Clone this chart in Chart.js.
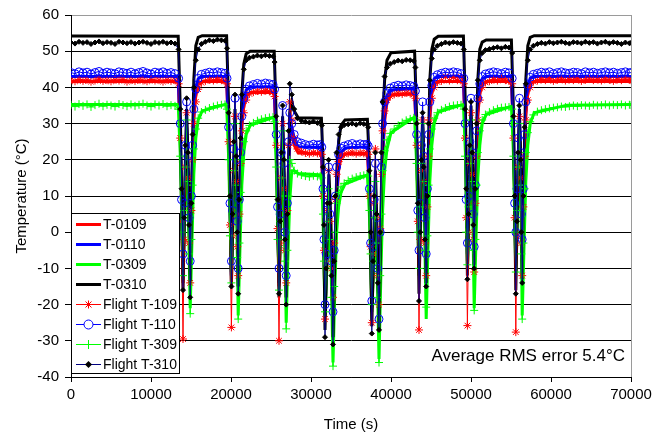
<!DOCTYPE html>
<html lang="en">
<head>
<meta charset="UTF-8">
<title>Temperature vs time</title>
<script src="https://cdn.jsdelivr.net/npm/chart.js@4"></script>
<style>
  html, body { margin: 0; padding: 0; background: #fff; }
  #chart { display: block; }
</style>
</head>
<body>
<canvas id="chart" width="668" height="434"></canvas>
<script>
// model curves: sparse breakpoints (s)
const modelTime = [0,
  13400, 13650, 14000, 14300, 14450, 14650, 14900, 15150, 15350, 15600, 15900, 16400,
  19450, 19700, 20050, 20350, 20500, 20700, 20900, 21150, 21350, 21600, 21900, 22400,
  25400, 25650, 26000, 26300, 26450, 26650, 26900, 27150, 27350, 27600, 27900, 28400,
  31300, 31500, 31750, 32050, 32250, 32500, 32750, 33000, 33200, 33450, 33750, 34250,
  37050, 37300, 37600, 37900, 38050, 38250, 38500, 38750, 38950, 39200, 39500, 40000,
  42950, 43200, 43500, 43800, 43950, 44150, 44400, 44650, 44850, 45100, 45400, 45900,
  49050, 49300, 49550, 49850, 50000, 50200, 50400, 50650, 50850, 51100, 51400, 51900,
  55050, 55300, 55600, 55900, 56050, 56250, 56400, 56650, 56850, 57100, 57400, 57900,
  62000, 70000]

const modelT0109 = [41.6,
  41.6, 27, -14, 15, 29, 13, -10, 14, 31, 38.5, 41, 41.6,
  41.6, 27, -14, 15, 29, 13, -11, 13, 29, 35, 37.8, 38.6,
  38.6, 25, -15, 13, 28, 11, -12, 11, 27, 27.5, 24, 21.9,
  21.7, 11, -22, -5, 10, -4, -22, -9, 8, 17, 20.5, 21.6,
  21.7, 11, -21, -4, 11, -5, -21, 0, 20, 30.5, 36, 37.9,
  38.2, 25, -10, 15, 29, 13, -8, 15, 31, 38.5, 41, 41.6,
  41.6, 27, -8, 16, 30, 14, -6, 16, 32, 38.8, 41, 41.6,
  41.6, 27, -9, 16, 30, 14, -7, 16, 32, 38.8, 41, 41.6,
  41.6, 41.6]

const modelT0110 = [43.0,
  43.0, 28, -12, 16, 30, 14, -10, 16, 33, 40, 42.4, 43.0,
  43.0, 28, -12, 16, 30, 14, -11, 15, 30, 36.5, 39.3, 40.1,
  40.2, 26, -14, 14, 29, 12, -13, 12, 28, 29, 25.5, 23.6,
  23.4, 13, -22, -3, 12, -2, -24, -8, 10, 18.5, 22, 23.3,
  23.6, 13, -20, -2, 13, -3, -23, 2, 22, 32, 37.5, 39.3,
  39.6, 26, -8, 16, 30, 14, -7, 17, 33, 40, 42.4, 43.0,
  43.0, 28, -6, 18, 31, 15, -5, 18, 34, 40.3, 42.4, 43.0,
  43.0, 28, -4, 19, 31, 15, -3, 18, 34, 40.5, 42.5, 43.0,
  43.0, 43.0]

const modelT0309 = [35.3,
  35.3, 22, -10, 10, 26, 8, -21, 0, 16, 26, 31, 33.5,
  35.4, 21, -11, 9, 25, 7, -23, -2, 13, 22, 27, 29.5,
  31.8, 19, -13, 7, 23, 5, -25, -4, 9, 17, 17, 16.2,
  15.8, 5, -23, -6, 7, -8, -36, -14, 0, 7, 11, 13.3,
  15.8, 5, -22, -5, 8, -8, -35, -10, 6, 17, 23, 27.5,
  31.8, 19, -12, 9, 25, 7, -24, -2, 14, 24, 30, 33.2,
  35.3, 22, -10, 10, 26, 8, -21, 0, 15, 24, 30, 32.5,
  34.8, 22, -11, 10, 26, 8, -23, -2, 14, 24, 30, 33.0,
  35.1, 35.3]

const modelT0310 = [54.2,
  54.1, 35, -16, 20, 34, 18, -14, 20, 42, 51.5, 53.8, 54.3,
  54.3, 35, -15, 20, 34, 17, -15, 18, 38, 46.5, 49.3, 50.0,
  50.0, 32, -18, 18, 32, 16, -18, 15, 33, 36, 33.5, 31.6,
  31.5, 20, -27, 2, 16, 2, -29, -5, 15, 25, 29.5, 31.0,
  31.2, 19, -26, 3, 17, 1, -27, 5, 30, 42, 47.5, 49.6,
  50.0, 32, -17, 18, 32, 16, -14, 20, 42, 50.5, 53.3, 54.1,
  54.2, 35, -12, 22, 35, 19, -9, 22, 42, 50.5, 52.5, 53.1,
  53.1, 34, -16, 20, 34, 17, -13, 20, 42, 51.5, 53.8, 54.3,
  54.3, 54.3]

// flight samples (s)
const flightTime = [
  0, 500, 1000, 1500, 2000, 2500, 3000, 3500, 4000, 4500, 5000, 5500, 6000, 6500,
  7000, 7500, 8000, 8500, 9000, 9500, 10000, 10500, 11000, 11500, 12000, 12500, 13000,
  13450, 13650, 13820, 14000, 14150, 14300, 14450, 14600, 14750, 14900, 15050, 15200, 15350, 15600, 15900, 16300,
  16800, 17300, 17800, 18300, 18800, 19250,
  19500, 19700, 19870, 20050, 20200, 20350, 20500, 20650, 20780, 20900, 21050, 21200, 21350, 21600, 21900, 22300,
  22800, 23300, 23800, 24300, 24800, 25250,
  25450, 25650, 25820, 26000, 26150, 26300, 26450, 26600, 26750, 26900, 27050, 27200, 27350, 27600, 27900, 28300,
  28800, 29300, 29800, 30300, 30800, 31150,
  31350, 31500, 31620, 31750, 31900, 32050, 32200, 32350, 32550, 32750, 32900, 33050, 33200, 33450, 33750, 34150,
  34650, 35150, 35650, 36150, 36600, 37000,
  37150, 37300, 37450, 37600, 37750, 37900, 38050, 38200, 38350, 38500, 38650, 38800, 38950, 39200, 39500, 39900,
  40400, 40900, 41400, 41900, 42400, 42850,
  43050, 43200, 43350, 43500, 43650, 43800, 43950, 44100, 44250, 44400, 44550, 44700, 44850, 45100, 45400, 45800,
  46300, 46800, 47300, 47800, 48300, 48750,
  49100, 49250, 49400, 49550, 49700, 49850, 50000, 50150, 50280, 50400, 50550, 50700, 50850, 51100, 51400, 51800,
  52300, 52800, 53300, 53800, 54300, 54750,
  55150, 55300, 55450, 55600, 55750, 55900, 56050, 56200, 56300, 56400, 56550, 56700, 56850, 57100, 57400, 57800,
  58300, 58800, 59300, 59800, 60300, 60800, 61300, 61800, 62300, 62800, 63300, 63800,
  64300, 64800, 65300, 65800, 66300, 66800, 67300, 67800, 68300, 68800, 69300, 69800, 70000]

const flightT109 = [
  42.0, 41.7, 42.2, 41.8, 42.1, 41.6, 41.9, 42.3, 41.8, 42.0, 41.7, 42.1, 41.9, 42.2,
  41.6, 42.0, 41.8, 42.1, 41.9, 41.7, 42.2, 41.9, 42.0, 41.6, 42.1, 41.8, 42.0,
  41, 26, 3, -29.5, -2, 18, 33, 15, -3, -14, 6, 20, 30, 36, 39.5, 41.3,
  41.8, 42.1, 41.9, 42.2, 42.0, 41.8,
  41, 25, 2, -26.3, -1, 17, 32, 14, -4, -12, 5, 19, 28, 33, 36.5, 38.2,
  38.7, 39.0, 38.8, 39.1, 38.9, 38.7,
  37.5, 24, 1, -30, -3, 15, 30, 12, -5, -14, 6, 24, 36, 31, 26, 23,
  22.3, 21.9, 21.7, 22.0, 21.8, 21.9,
  21.5, 10, -5, -24, -8, 6, 17, 3, -10, -18, -3, 9, 16, 19.5, 21, 21.6,
  21.8, 22.1, 21.7, 22.0, 21.8, 21.9,
  21.5, 10, -4, -25, -6, 8, 23, 4, -12, -20, 1, 16, 28, 33.5, 36.5, 37.6,
  38.1, 38.4, 38.2, 38.5, 38.3, 38.1,
  37, 24, 3, -27, -2, 17, 31, 14, -3, -12, 7, 21, 31, 37, 40, 41.5,
  41.8, 43.0, 41.9, 42.8, 42.0, 42.9,
  41, 26, 4, -25.8, 0, 19, 33, 16, -2, -11, 8, 21, 31, 36.5, 40, 41.4,
  41.7, 42.2, 41.9, 42.5, 42.0, 41.8,
  41, 26, 4, -27.6, -1, 18, 32, 15, -3, -12, 7, 21, 31, 36.5, 40, 41.6,
  41.9, 42.2, 42.0, 42.4, 41.8, 42.1, 42.3, 41.9, 42.2, 42.0, 42.4, 41.8,
  42.1, 42.3, 42.0, 42.2, 41.9, 42.3, 42.1, 41.8, 42.2, 42.0, 42.3, 42.1, 42.0]

const flightT110 = [
  44.1, 43.8, 44.3, 44.0, 44.2, 43.7, 44.1, 44.4, 43.9, 44.2, 44.0, 43.8, 44.3, 44.1,
  43.9, 44.2, 43.8, 44.1, 44.4, 44.0, 43.7, 44.2, 44.0, 44.3, 43.9, 44.1, 43.8,
  42.5, 30, 9, -6, 8, 24, 36, 21, 4, -8, 10, 24, 34, 39.5, 42.5, 43.6,
  43.9, 44.2, 44.0, 44.3, 44.1, 43.9,
  42.5, 29, 8, -8, 6, 23, 37, 20, 3, -10, 9, 22, 32, 37, 39.5, 40.4,
  40.8, 41.1, 40.9, 41.2, 41.0, 40.8,
  39.5, 27, 7, -10, 5, 22, 35, 19, 0, -12, 8, 25, 33, 30, 27, 25,
  24.6, 24.2, 24.0, 24.3, 24.1, 24.2,
  23.5, 12, -2, -20, -6, 8, 18, 5, -8, -22, -5, 10, 18, 21.5, 23.2, 23.8,
  24.2, 24.5, 24.1, 24.4, 24.2, 24.3,
  23.8, 12, -3, -19, -4, 9, 19, 4, -10, -24, 0, 18, 30, 36, 38.5, 39.8,
  40.3, 40.6, 40.4, 40.7, 40.5, 40.3,
  39, 27, 6, -5, 8, 24, 36, 21, 4, -6, 12, 27, 36, 40.5, 42.8, 43.5,
  43.9, 44.2, 44.0, 44.3, 44.1, 43.8,
  42.5, 30, 9, -3, 10, 25, 37, 22, 5, -4, 13, 28, 37, 41, 43, 43.7,
  44.0, 44.3, 44.1, 43.8, 44.2, 44.0,
  42.5, 30, 8, 0, 12, 26, 37, 22, 5, -2, 12, 27, 36, 40.5, 42.8, 43.6,
  43.9, 44.2, 44.0, 44.3, 43.8, 44.1, 44.3, 44.0, 43.9, 44.2, 44.1, 43.8,
  44.3, 44.0, 44.2, 43.9, 44.1, 44.3, 44.0, 44.2, 43.9, 44.1, 44.3, 44.0, 44.1]

const flightT309 = [
  35.2, 34.7, 35.4, 34.9, 35.3, 34.6, 35.1, 35.5, 34.8, 35.2, 35.0, 34.7, 35.4, 35.1,
  34.8, 35.3, 34.9, 35.2, 35.5, 35.0, 34.7, 35.3, 35.0, 35.4, 34.8, 35.1, 34.9,
  34, 21, 0, -12, 6, 18, 31, 14, -6, -22.5, -2, 13, 23, 28.5, 31.5, 33.2,
  33.8, 34.3, 34.7, 35.0, 35.2, 35.3,
  34, 20, -1, -14, 5, 17, 30, 13, -7, -24, -3, 11, 20, 25, 28, 29.5,
  30.2, 30.8, 31.2, 31.5, 31.7, 31.8,
  30.5, 18, -2, -16, 3, 15, 28, 10, -8, -26.7, -5, 10, 20, 19, 17, 16.2,
  15.8, 15.5, 15.3, 15.6, 15.4, 15.5,
  15, 5, -8, -22, -10, 3, 12, -2, -18, -37, -15, 0, 8, 11, 12.5, 13.5,
  14.3, 14.8, 15.2, 15.5, 15.7, 15.8,
  15.5, 6, -6, -20, -8, 4, 14, -3, -18, -36, -12, 5, 17, 22.5, 25.5, 27.3,
  28.5, 29.5, 30.3, 30.9, 31.3, 31.6,
  31, 19, 0, -10, 7, 19, 30, 14, -5, -20.7, -1, 13, 23, 28.5, 31.5, 33,
  33.8, 34.3, 34.7, 35.0, 35.1, 35.2,
  34, 21, 0, -9, 7, 19, 31, 14, -5, -21.6, -2, 13, 22, 28, 31, 32.5,
  33.2, 33.7, 34.1, 34.4, 34.5, 34.6,
  34, 21, 0, -11, 6, 18, 30, 13, -6, -24, -3, 12, 22, 27.5, 30.5, 32.4,
  33.3, 33.7, 34.0, 34.2, 34.4, 34.5, 34.7, 34.6, 34.8, 35.0, 34.8, 35.1,
  35.0, 34.9, 35.2, 35.0, 35.1, 35.3, 35.0, 35.2, 35.1, 35.3, 35.0, 35.2, 35.1]

const flightT310 = [
  52.4, 52.1, 52.6, 52.3, 52.5, 52.0, 52.4, 52.7, 52.2, 52.5, 52.3, 52.0, 52.6, 52.4,
  52.2, 52.5, 52.1, 52.4, 52.6, 52.3, 52.0, 52.5, 52.3, 52.6, 52.2, 52.4, 52.1,
  50.5, 34, 12, -16, 4, 24, 37, 22, 2, -18, 8, 27, 40, 47.5, 50.5, 52.0,
  52.6, 53.0, 52.8, 53.2, 53.0, 52.9,
  50.8, 33, 10, -15, 5, 25, 38, 21, 0, -17, 9, 26, 38, 45, 47.5, 48.2,
  48.5, 48.8, 48.6, 48.9, 48.7, 48.6,
  47, 32, 9, -17, 3, 22, 35, 20, -2, -20, 5, 28, 41, 38, 34, 31.5,
  30.8, 30.5, 30.3, 30.6, 30.2, 30.4,
  29.5, 18, 2, -29, -10, 8, 20, 8, -12, -31, -8, 10, 22, 27, 29, 29.6,
  29.8, 30.0, 29.7, 30.1, 29.9, 29.8,
  29, 17, 0, -28, -8, 10, 22, 5, -14, -27, 0, 22, 36, 43, 45.5, 46.5,
  47.0, 47.4, 47.2, 47.6, 47.5, 47.3,
  45.5, 30, 8, -19, 0, 20, 33, 18, -2, -15, 10, 30, 42, 48, 50.5, 51.5,
  52.0, 52.4, 52.2, 52.5, 52.3, 52.1,
  50.5, 34, 12, -13, 5, 24, 36, 22, 2, -10, 12, 30, 42, 47.5, 49.5, 50.3,
  50.6, 50.9, 51.1, 50.8, 51.2, 51.0,
  49.5, 32, 10, -17, 3, 22, 35, 20, 0, -14, 10, 29, 41, 47.5, 50.5, 51.5,
  52.0, 52.3, 52.1, 52.5, 52.2, 52.4, 52.6, 52.3, 52.1, 52.5, 52.4, 52.2,
  52.6, 52.3, 52.5, 52.1, 52.4, 52.6, 52.2, 52.5, 52.3, 52.0, 52.4, 52.2, 52.3]

const xTicks = [0, 10000, 20000, 30000, 40000, 50000, 60000, 70000]
const yTicks = [-40, -30, -20, -10, 0, 10, 20, 30, 40, 50, 60]

const FONT = "'Liberation Sans', Arial, sans-serif"
const pts = (xs, ys) => xs.map((x, i) => ({ x: x, y: ys[i] }))

const series = [
  { label: 'T-0109', data: pts(modelTime, modelT0109), borderColor: '#ff0000', borderWidth: 3, pointRadius: 0 },
  { label: 'T-0110', data: pts(modelTime, modelT0110), borderColor: '#0000ff', borderWidth: 3, pointRadius: 0 },
  { label: 'T-0309', data: pts(modelTime, modelT0309), borderColor: '#00ff00', borderWidth: 3, pointRadius: 0 },
  { label: 'T-0310', data: pts(modelTime, modelT0310), borderColor: '#000000', borderWidth: 3, pointRadius: 0 },
  { label: 'Flight T-109', data: pts(flightTime, flightT109), borderColor: '#ff0000', borderWidth: 1,
    pointStyle: 'star', pointRadius: 4, pointBorderColor: '#ff0000', pointBackgroundColor: '#ff0000', pointBorderWidth: 1 },
  { label: 'Flight T-110', data: pts(flightTime, flightT110), borderColor: '#0000ff', borderWidth: 1,
    pointStyle: 'circle', pointRadius: 4, pointBorderColor: '#0000ff', pointBackgroundColor: 'rgba(0,0,0,0)', pointBorderWidth: 1 },
  { label: 'Flight T-309', data: pts(flightTime, flightT309), borderColor: '#00ff00', borderWidth: 1,
    pointStyle: 'cross', pointRadius: 4, pointBorderColor: '#00ff00', pointBackgroundColor: '#00ff00', pointBorderWidth: 1 },
  { label: 'Flight T-310', data: pts(flightTime, flightT310), borderColor: '#000080', borderWidth: 1,
    pointStyle: 'rectRot', pointRadius: 2.5, pointBorderColor: '#000000', pointBackgroundColor: '#000000', pointBorderWidth: 1 }
]
// later series sit on top, like the spreadsheet draws them
series.forEach((s, i) => { s.order = series.length - i; s.fill = false; s.tension = 0 })

function legendMarker (ctx, style, x, y, color) {
  ctx.save()
  ctx.strokeStyle = color
  ctx.fillStyle = color
  ctx.lineWidth = 1
  ctx.beginPath()
  if (style === 'star') {
    ctx.moveTo(x - 4, y); ctx.lineTo(x + 4, y)
    ctx.moveTo(x, y - 4); ctx.lineTo(x, y + 4)
    ctx.moveTo(x - 3, y - 3); ctx.lineTo(x + 3, y + 3)
    ctx.moveTo(x - 3, y + 3); ctx.lineTo(x + 3, y - 3)
    ctx.stroke()
  } else if (style === 'circle') {
    ctx.fillStyle = '#fff'
    ctx.arc(x, y, 4.5, 0, Math.PI * 2)
    ctx.fill(); ctx.stroke()
  } else if (style === 'cross') {
    ctx.moveTo(x - 4.5, y); ctx.lineTo(x + 4.5, y)
    ctx.moveTo(x, y - 4.5); ctx.lineTo(x, y + 4.5)
    ctx.stroke()
  } else {
    ctx.moveTo(x, y - 3.5); ctx.lineTo(x + 3.5, y); ctx.lineTo(x, y + 3.5); ctx.lineTo(x - 3.5, y)
    ctx.closePath(); ctx.fill()
  }
  ctx.restore()
}

const decorations = {
  id: 'decorations',
  beforeDatasetsDraw (chart) {
    // grey frame on the right side of the plot area
    const { ctx, chartArea } = chart
    ctx.save()
    ctx.strokeStyle = '#9a9a9a'
    ctx.lineWidth = 1
    ctx.beginPath()
    ctx.moveTo(Math.round(chartArea.right) + 0.5, chartArea.top)
    ctx.lineTo(Math.round(chartArea.right) + 0.5, chartArea.bottom)
    ctx.stroke()
    ctx.restore()
  },
  afterDatasetsDraw (chart) {
    const ctx = chart.ctx
    ctx.save()
    // legend box, lower left inside the plot
    const bx = 71.5, by = 213.5, bw = 108, bh = 160
    ctx.fillStyle = '#fff'
    ctx.fillRect(bx, by, bw, bh)
    ctx.strokeStyle = '#000'
    ctx.lineWidth = 1
    ctx.strokeRect(bx, by, bw, bh)
    ctx.font = '14px ' + FONT
    ctx.textBaseline = 'middle'
    ctx.textAlign = 'left'
    series.forEach((s, i) => {
      const y = 224 + i * 20
      ctx.strokeStyle = s.borderColor
      ctx.lineWidth = s.borderWidth
      ctx.beginPath()
      ctx.moveTo(76, y + 0.5)
      ctx.lineTo(101, y + 0.5)
      ctx.stroke()
      if (s.pointRadius > 0) legendMarker(ctx, s.pointStyle, 88.5, y + 0.5, s.pointBorderColor)
      ctx.fillStyle = '#000'
      ctx.fillText(s.label, 103, y + 1)
    })
    ctx.font = '17px ' + FONT
    ctx.textAlign = 'right'
    ctx.fillText('Average RMS error 5.4\u00b0C', 625, 356)
    ctx.restore()
  }
}

new Chart(document.getElementById('chart'), {
  type: 'line',
  data: { datasets: series },
  plugins: [decorations],
  options: {
    responsive: false,
    animation: false,
    layout: { padding: { left: 0, right: 37, top: 12, bottom: 0 } },
    plugins: { legend: { display: false }, tooltip: { enabled: false } },
    scales: {
      x: {
        type: 'linear',
        min: 0,
        max: 70000,
        afterFit: (scale) => { scale.height = 57 },
        afterBuildTicks: (scale) => { scale.ticks = xTicks.map(v => ({ value: v })) },
        grid: { drawOnChartArea: false, drawTicks: true, tickLength: 5, tickColor: '#000' },
        border: { color: '#000', width: 1 },
        ticks: { color: '#000', font: { family: FONT, size: 15 }, padding: 4, maxRotation: 0, autoSkip: false, callback: v => String(v) },
        title: { display: true, text: 'Time (s)', color: '#000', font: { family: FONT, size: 15 }, padding: { top: 0, bottom: 0 } }
      },
      y: {
        min: -40,
        max: 60,
        afterFit: (scale) => { scale.width = 71 },
        afterBuildTicks: (scale) => { scale.ticks = yTicks.map(v => ({ value: v })) },
        grid: {
          color: (c) => (c.tick && c.tick.value === 60) ? '#9a9a9a' : '#000',
          lineWidth: 1,
          drawTicks: true,
          tickLength: 6,
          tickColor: '#000'
        },
        border: { color: '#000', width: 1 },
        ticks: { color: '#000', font: { family: FONT, size: 15 }, padding: 6, autoSkip: false, callback: v => String(v) },
        title: { display: true, text: 'Temperature (\u00b0C)', color: '#000', font: { family: FONT, size: 15 }, padding: { top: 13, bottom: 0 } }
      }
    }
  }
})
</script>
</body>
</html>
